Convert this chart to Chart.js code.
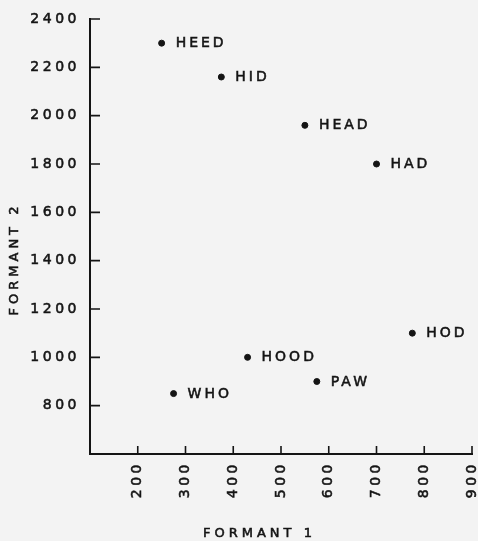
<!DOCTYPE html>
<html>
<head>
<meta charset="utf-8">
<script src="https://cdn.jsdelivr.net/npm/chart.js@4.4.1/dist/chart.umd.min.js"></script>
<style>
  html, body { margin: 0; padding: 0; background: #f3f3f3; }
  #wrap { width: 478px; height: 541px; position: relative; }
</style>
</head>
<body>
<div id="wrap"><canvas id="c"></canvas></div>
<script>
// ---- data ----
const vowels = ['HEED', 'HID', 'HEAD', 'HAD', 'HOD', 'PAW', 'HOOD', 'WHO'];
const formant1 = [250, 375, 550, 700, 775, 575, 430, 275];
const formant2 = [2300, 2160, 1960, 1800, 1100, 900, 1000, 850];
const xTickValues = [200, 300, 400, 500, 600, 700, 800, 900];
const yTickValues = [800, 1000, 1200, 1400, 1600, 1800, 2000, 2200, 2400];
const xTitle = 'FORMANT 1';
const yTitle = 'FORMANT 2';

const INK = '#141414';
const STROKE = 0.55;
Chart.defaults.font.family = "'DejaVu Sans', sans-serif";
Chart.defaults.color = INK;

const spacingPlugin = {
  id: 'spacing',
  beforeLayout(chart) { chart.ctx.letterSpacing = '3.5px'; },
  beforeDraw(chart) { chart.ctx.letterSpacing = '3.5px'; }
};

function heavyText(ctx, text, x, y) {
  ctx.fillText(text, x, y);
  ctx.strokeText(text, x, y);
}

const decorPlugin = {
  id: 'decor',
  afterDatasetsDraw(chart) {
    const ctx = chart.ctx;
    const meta = chart.getDatasetMeta(0);
    ctx.save();
    ctx.letterSpacing = '3px';
    ctx.font = "14px 'DejaVu Sans', sans-serif";
    ctx.fillStyle = INK;
    ctx.strokeStyle = INK;
    ctx.lineWidth = STROKE;
    ctx.textAlign = 'left';
    ctx.textBaseline = 'middle';
    meta.data.forEach((pt, i) => {
      heavyText(ctx, vowels[i], pt.x + 14, pt.y + 0.5);
    });
    ctx.restore();
  },
  afterDraw(chart) {
    const ctx = chart.ctx;
    const xs = chart.scales.x, ys = chart.scales.y;
    const area = chart.chartArea;
    ctx.save();
    ctx.strokeStyle = INK;
    ctx.lineWidth = 1.6;
    ctx.beginPath();
    ys.ticks.forEach(t => {
      const y = ys.getPixelForValue(t.value);
      ctx.moveTo(area.left, y);
      ctx.lineTo(area.left + 10, y);
    });
    xs.ticks.forEach(t => {
      const x = xs.getPixelForValue(t.value);
      ctx.moveTo(x, area.bottom);
      ctx.lineTo(x, area.bottom - 8);
    });
    ctx.stroke();

    // axis titles
    ctx.fillStyle = INK;
    ctx.lineWidth = STROKE;
    ctx.letterSpacing = '4px';
    ctx.font = "13px 'DejaVu Sans', sans-serif";
    ctx.textBaseline = 'middle';
    ctx.textAlign = 'left';
    heavyText(ctx, xTitle, 203, 534);
    ctx.translate(15, 259);
    ctx.rotate(-Math.PI / 2);
    ctx.textAlign = 'center';
    heavyText(ctx, yTitle, 0, 0);
    ctx.restore();
  }
};

new Chart(document.getElementById('c'), {
  type: 'scatter',
  data: {
    datasets: [{
      data: formant1.map((v, i) => ({ x: v, y: formant2[i] })),
      backgroundColor: INK,
      borderColor: INK,
      pointRadius: 3,
      pointHoverRadius: 3
    }]
  },
  options: {
    responsive: true,
    maintainAspectRatio: false,
    animation: false,
    events: [],
    layout: { padding: { left: 0, right: 6, top: 19, bottom: 0 } },
    plugins: { legend: { display: false }, tooltip: { enabled: false } },
    scales: {
      x: {
        type: 'linear',
        min: 100, max: 900,
        afterBuildTicks(scale) { scale.ticks = xTickValues.map(v => ({ value: v })); },
        afterFit(scale) { scale.height = 87; scale.paddingLeft = 0; scale.paddingRight = 0; },
        grid: { display: false, drawTicks: false },
        border: { display: true, color: INK, width: 2 },
        ticks: {
          minRotation: 90, maxRotation: 90,
          padding: 7,
          font: { size: 14 },
          color: INK,
          textStrokeWidth: STROKE,
          textStrokeColor: INK,
          callback: v => String(v)
        }
      },
      y: {
        type: 'linear',
        min: 600, max: 2400,
        afterBuildTicks(scale) { scale.ticks = yTickValues.map(v => ({ value: v })); },
        afterFit(scale) { scale.width = 90; scale.paddingTop = 0; scale.paddingBottom = 0; },
        grid: { display: false, drawTicks: false },
        border: { display: true, color: INK, width: 2 },
        ticks: {
          padding: 10,
          font: { size: 14 },
          color: INK,
          textStrokeWidth: STROKE,
          textStrokeColor: INK,
          callback: v => String(v)
        }
      }
    }
  },
  plugins: [spacingPlugin, decorPlugin]
});
</script>
</body>
</html>
